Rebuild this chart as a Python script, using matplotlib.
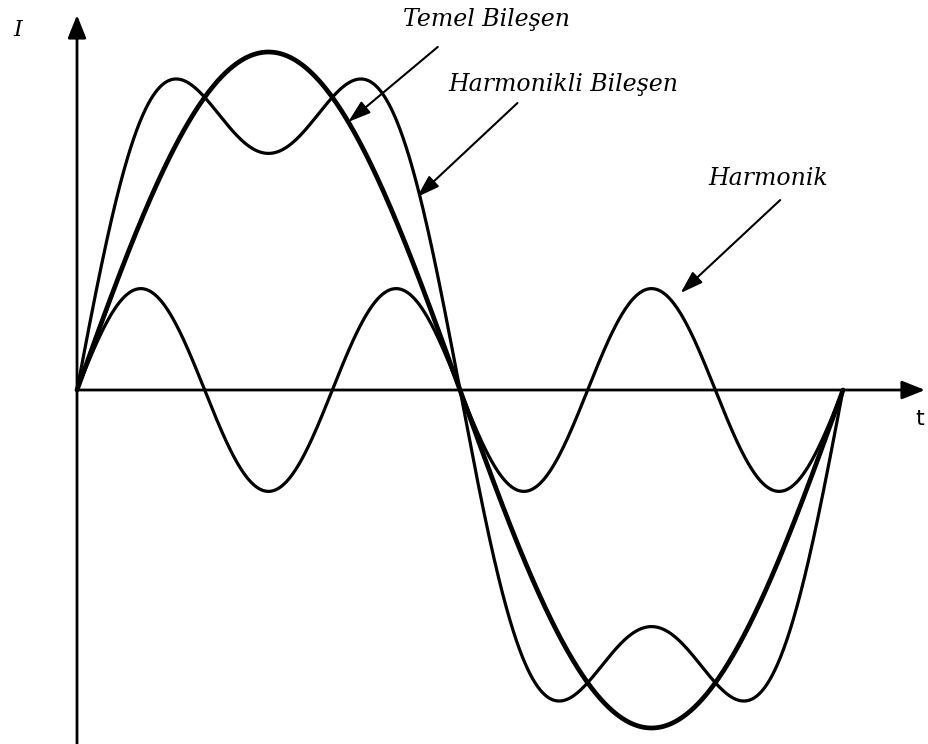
import numpy as np
import matplotlib.pyplot as plt

# waveform description (one period, t in periods)
harmonic_orders = [1, 3]
harmonic_amps = [1.0, 0.30]          # fundamental, 3rd harmonic
line_widths = [3.4, 2.3]

labels = ['Temel Bileşen', 'Harmonikli Bileşen', 'Harmonik']
label_pos = [(0.535, 1.095), (0.635, 0.905), (0.902, 0.625)]
arrow_tail = [(0.471, 1.015), (0.575, 0.849), (0.918, 0.562)]
arrow_head = [(0.354, 0.793), (0.444, 0.571), (0.788, 0.287)]

t = np.linspace(0, 1, 1000)
fund = harmonic_amps[0] * np.sin(2 * np.pi * harmonic_orders[0] * t)
harm = harmonic_amps[1] * np.sin(2 * np.pi * harmonic_orders[1] * t)
total = fund + harm

fig = plt.figure(figsize=(9.29, 7.44), dpi=100)
ax = fig.add_axes([0, 0, 1, 1])
ax.set_xlim(-77 / 766, 852 / 766)
ax.set_ylim(-354 / 338, 390 / 338)
ax.axis('off')

ax.plot(t, fund, color='black', lw=line_widths[0], solid_capstyle='round')
ax.plot(t, total, color='black', lw=line_widths[1], solid_capstyle='round')
ax.plot(t, harm, color='black', lw=line_widths[1], solid_capstyle='round')

# axes with arrow heads
head = '-|>,head_length=0.5,head_width=0.2'
ax.annotate('', xy=(848 / 766, 0), xytext=(0, 0),
            arrowprops=dict(arrowstyle=head, lw=2.0, color='black',
                            mutation_scale=28, shrinkA=0, shrinkB=0))
ax.annotate('', xy=(0, 375 / 338), xytext=(0, -360 / 338),
            arrowprops=dict(arrowstyle=head, lw=2.0, color='black',
                            mutation_scale=28, shrinkA=0, shrinkB=0))
ax.text(843 / 766, -0.085, 't', fontsize=16, family='DejaVu Sans',
        ha='center', va='center')
ax.text(-59 / 766, 1.065, 'I', fontsize=16, family='DejaVu Serif',
        style='italic', ha='center', va='center')

for lab, pos, tail, hd in zip(labels, label_pos, arrow_tail, arrow_head):
    ax.text(pos[0], pos[1], lab, fontsize=17, family='DejaVu Serif',
            style='italic', ha='center', va='center')
    ax.annotate('', xy=hd, xytext=tail,
                arrowprops=dict(arrowstyle='-|>,head_length=0.55,head_width=0.18',
                                lw=1.5, color='black',
                                mutation_scale=25, shrinkA=0, shrinkB=0))

fig.savefig('out.png', dpi=100)
